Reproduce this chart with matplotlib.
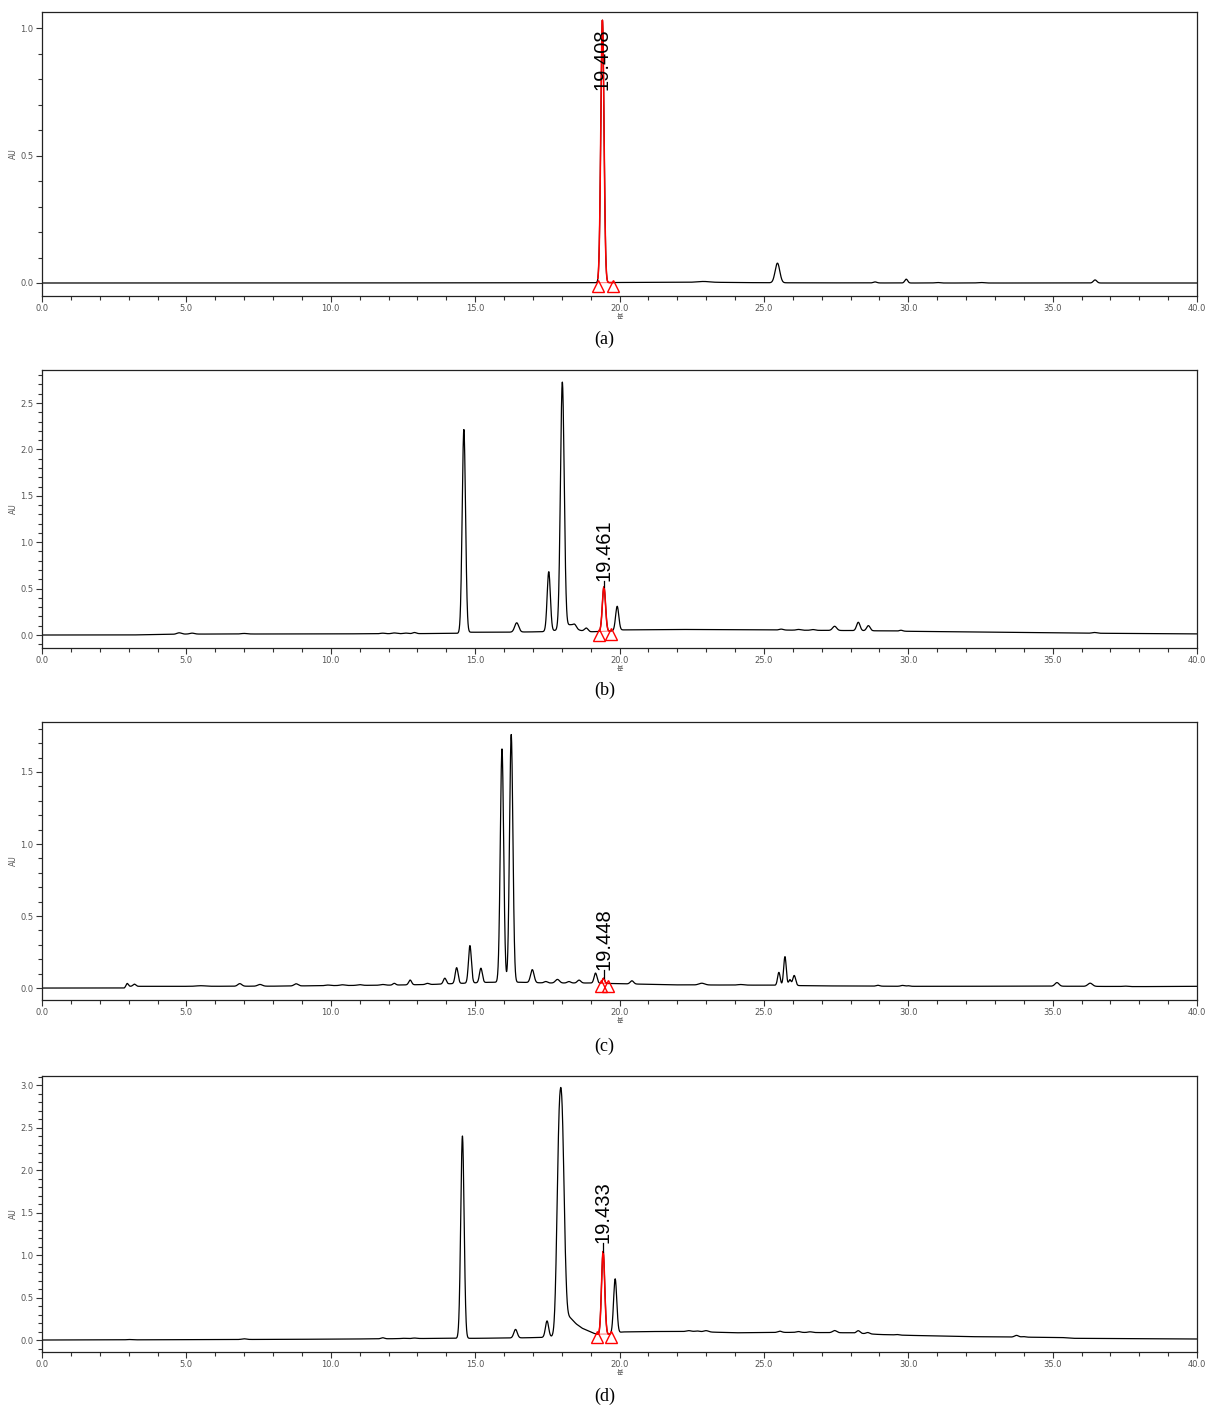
import numpy as np
import matplotlib
matplotlib.use("Agg")
import matplotlib.pyplot as plt
from matplotlib.ticker import MultipleLocator, FormatStrFormatter
import matplotlib.transforms as mtransforms

# ---------------- data ----------------
# panel (a)
base_a_t = [0, 10, 15, 19, 20, 23, 25, 30, 40]
base_a_v = [0.0, 0.0, 0.001, 0.001, 0.002, 0.003, 0.001, 0.0, 0.0]
peak_a_rt = [19.408, 22.9, 25.47, 28.85, 29.93, 31.0, 32.5, 36.47]
peak_a_h = [1.03, 0.003, 0.077, 0.004, 0.015, 0.002, 0.002, 0.012]
peak_a_w = [0.055, 0.2, 0.08, 0.06, 0.05, 0.08, 0.1, 0.06]

# panel (b)
base_b_t = [0, 3, 5, 10, 13, 14.4, 14.8, 16, 17.3, 17.8, 18.3, 19.0, 19.6, 20.1, 22, 25, 27, 28, 29, 30, 33, 36, 40]
base_b_v = [0, 0.0, 0.01, 0.012, 0.015, 0.018, 0.03, 0.03, 0.035, 0.05, 0.06, 0.035, 0.04, 0.055, 0.06, 0.055,
            0.05, 0.048, 0.045, 0.04, 0.03, 0.02, 0.012]
peak_b_rt = [4.75, 5.2, 7.0, 11.8, 12.2, 12.6, 12.9, 14.61, 16.44, 17.55, 18.02, 18.28, 18.45, 18.85,
             19.461, 19.92, 25.6, 26.2, 26.7, 27.45, 28.27, 28.62, 29.75, 36.45]
peak_b_h = [0.015, 0.01, 0.006, 0.006, 0.008, 0.006, 0.012, 2.19, 0.1, 0.64, 2.66, 0.05, 0.035, 0.035,
            0.48, 0.26, 0.01, 0.008, 0.008, 0.045, 0.09, 0.055, 0.01, 0.008]
peak_b_w = [0.08, 0.08, 0.1, 0.08, 0.08, 0.08, 0.06, 0.058, 0.07, 0.055, 0.065, 0.15, 0.06, 0.06,
            0.055, 0.055, 0.07, 0.07, 0.07, 0.07, 0.06, 0.06, 0.06, 0.08]

# panel (c)
base_c_t = [0, 2.85, 2.95, 5, 8, 10, 12, 13.5, 15.5, 16.6, 17.5, 19, 20, 22, 25, 27, 30, 35, 38, 40]
base_c_v = [0.0, 0.0, 0.012, 0.012, 0.013, 0.017, 0.02, 0.025, 0.04, 0.04, 0.035, 0.035, 0.03, 0.022,
            0.02, 0.015, 0.012, 0.013, 0.01, 0.012]
peak_c_rt = [2.95, 3.2, 5.5, 6.85, 7.55, 8.8, 9.9, 10.4, 11.0, 11.8, 12.2, 12.75, 13.35, 13.95, 14.36,
             14.82, 15.2, 15.93, 16.25, 16.98, 17.45, 17.85, 18.25, 18.6, 19.17, 19.448, 20.43, 22.85,
             24.2, 25.52, 25.73, 25.9, 26.05, 28.95, 29.8, 30.0, 35.15, 36.3, 37.5]
peak_c_h = [0.02, 0.015, 0.004, 0.018, 0.012, 0.015, 0.004, 0.005, 0.005, 0.005, 0.012, 0.033, 0.008,
            0.04, 0.11, 0.26, 0.1, 1.62, 1.72, 0.09, 0.01, 0.025, 0.01, 0.02, 0.07, 0.035, 0.022, 0.012,
            0.004, 0.09, 0.2, 0.04, 0.07, 0.006, 0.006, 0.004, 0.025, 0.022, 0.003]
peak_c_w = [0.04, 0.05, 0.15, 0.07, 0.08, 0.07, 0.08, 0.08, 0.08, 0.08, 0.05, 0.05, 0.06, 0.05, 0.05,
            0.05, 0.05, 0.058, 0.058, 0.06, 0.06, 0.07, 0.06, 0.06, 0.05, 0.04, 0.06, 0.1, 0.1, 0.045,
            0.045, 0.04, 0.05, 0.06, 0.06, 0.06, 0.07, 0.08, 0.08]

# panel (d)
base_d_t = [0, 3, 6, 10, 12, 14, 15, 16.5, 17.3, 17.7, 17.95, 18.15, 18.3, 18.5, 18.7, 18.9, 19.1, 19.3,
            19.6, 20.1, 21, 22.5, 24, 26, 28, 29, 30, 32, 33.5, 35.3, 35.7, 38, 40]
base_d_v = [0, 0.002, 0.005, 0.01, 0.015, 0.02, 0.02, 0.025, 0.03, 0.04, 0.05, 0.3, 0.26, 0.19, 0.14,
            0.11, 0.08, 0.06, 0.065, 0.095, 0.1, 0.1, 0.085, 0.09, 0.085, 0.065, 0.055, 0.04, 0.035,
            0.03, 0.02, 0.016, 0.012]
peak_d_rt = [3.0, 7.0, 11.8, 12.5, 12.9, 14.56, 16.4, 17.49, 17.9, 18.02, 19.433, 19.85, 22.4,
             22.7, 23.0, 25.55, 26.2, 26.6, 27.45, 28.27, 28.6, 29.6, 33.75, 34.0]
peak_d_h = [0.004, 0.008, 0.012, 0.004, 0.006, 2.38, 0.1, 0.19, 2.0, 2.0, 0.98, 0.64, 0.01,
            0.008, 0.015, 0.015, 0.01, 0.008, 0.025, 0.03, 0.015, 0.006, 0.02, 0.006]
peak_d_w = [0.08, 0.08, 0.06, 0.08, 0.08, 0.058, 0.06, 0.055, 0.075, 0.075, 0.055, 0.055, 0.08,
            0.08, 0.08, 0.07, 0.07, 0.07, 0.07, 0.06, 0.06, 0.06, 0.07, 0.07]

# annotated (integrated) peak of each panel
ann_label = ["19.408", "19.461", "19.448", "19.433"]
ann_rt = [19.408, 19.461, 19.448, 19.433]
ann_start = [19.25, 19.30, 19.36, 19.21]
ann_end = [19.77, 19.69, 19.60, 19.70]
ann_text_y = [0.757, 0.585, 0.125, 1.145]

captions = ["(a)", "(b)", "(c)", "(d)"]
y_limits = [(-0.051, 1.063), (-0.14, 2.856), (-0.083, 1.847), (-0.141, 3.106)]
y_max_tick = [1.0, 2.5, 1.5, 3.0]

panels = [
    (base_a_t, base_a_v, peak_a_rt, peak_a_h, peak_a_w),
    (base_b_t, base_b_v, peak_b_rt, peak_b_h, peak_b_w),
    (base_c_t, base_c_v, peak_c_rt, peak_c_h, peak_c_w),
    (base_d_t, base_d_v, peak_d_rt, peak_d_h, peak_d_w),
]

# ---------------- figure ----------------
W, H = 1209, 1407
fig = plt.figure(figsize=(W / 100, H / 100), dpi=100)

# axes boxes in pixel coords (left, top, right, bottom)
boxes = [(42, 12, 1197, 296), (42, 370, 1197, 648), (42, 722, 1197, 1000), (42, 1076, 1197, 1352)]
caption_y = [339, 690, 1046, 1396]

t = np.linspace(0, 40, 8001)
label_font = ["Liberation Sans Narrow", "Liberation Sans", "DejaVu Sans"]

for i, (bt, bv, prt, ph, pw) in enumerate(panels):
    l, tp, r, b = boxes[i]
    ax = fig.add_axes([l / W, 1 - b / H, (r - l) / W, (b - tp) / H])
    base = np.interp(t, bt, bv)
    y = base.copy()
    for rt_, h_, w_ in zip(prt, ph, pw):
        y = y + h_ * np.exp(-0.5 * ((t - rt_) / w_) ** 2)
    ax.plot(t, y, color="black", lw=0.9, zorder=2)

    # integrated peak in red
    s, e = ann_start[i], ann_end[i]
    m = (t >= s) & (t <= e)
    ax.plot(t[m], y[m], color="red", lw=1.1, zorder=3)
    ys, ye = np.interp(s, bt, bv), np.interp(e, bt, bv)
    ax.plot([s, e], [ys, ye], color="red", lw=0.8, alpha=0.5, zorder=3)
    off = mtransforms.offset_copy(ax.transData, fig=fig, x=0, y=-3, units="dots")
    ax.plot([s, e], [ys, ye], linestyle="none", marker="^", markersize=8,
            markerfacecolor="none", markeredgecolor="red", markeredgewidth=1.0,
            transform=off, zorder=4, clip_on=False)

    apex = np.interp(ann_rt[i], t, y)
    ty = ann_text_y[i]
    if ty > apex:
        ax.plot([ann_rt[i], ann_rt[i]], [apex, ty], color="black", lw=0.9, zorder=3)
    ax.text(ann_rt[i], ty, ann_label[i], rotation=90, ha="center", va="bottom",
            fontsize=14.5, family=label_font, color="black", zorder=5)

    ax.set_xlim(0, 40)
    ax.set_ylim(*y_limits[i])
    ax.xaxis.set_major_locator(MultipleLocator(5))
    ax.xaxis.set_minor_locator(MultipleLocator(1))
    ax.yaxis.set_minor_locator(MultipleLocator(0.1))
    ax.set_yticks(np.arange(0, y_max_tick[i] + 0.01, 0.5))
    ax.xaxis.set_major_formatter(FormatStrFormatter("%.1f"))
    ax.yaxis.set_major_formatter(FormatStrFormatter("%.1f"))
    ax.tick_params(axis="both", which="both", direction="out", colors="#333333",
                   labelcolor="#555555", labelsize=6, width=0.8, top=False, right=False)
    ax.tick_params(axis="both", which="major", length=4, pad=2)
    ax.tick_params(axis="both", which="minor", length=3)
    for sp in ax.spines.values():
        sp.set_color("#222222")
        sp.set_linewidth(0.9)
    ax.set_xlabel("분", fontsize=5, color="#555555", labelpad=0,
                  family=["Noto Sans CJK KR", "DejaVu Sans"])
    ax.set_ylabel("AU", fontsize=5.5, color="#555555", labelpad=2)

    fig.text(0.5, 1 - caption_y[i] / H, captions[i], ha="center", va="center",
             fontsize=13, family=["Liberation Serif", "DejaVu Serif"])

fig.savefig("out.png", dpi=100)
